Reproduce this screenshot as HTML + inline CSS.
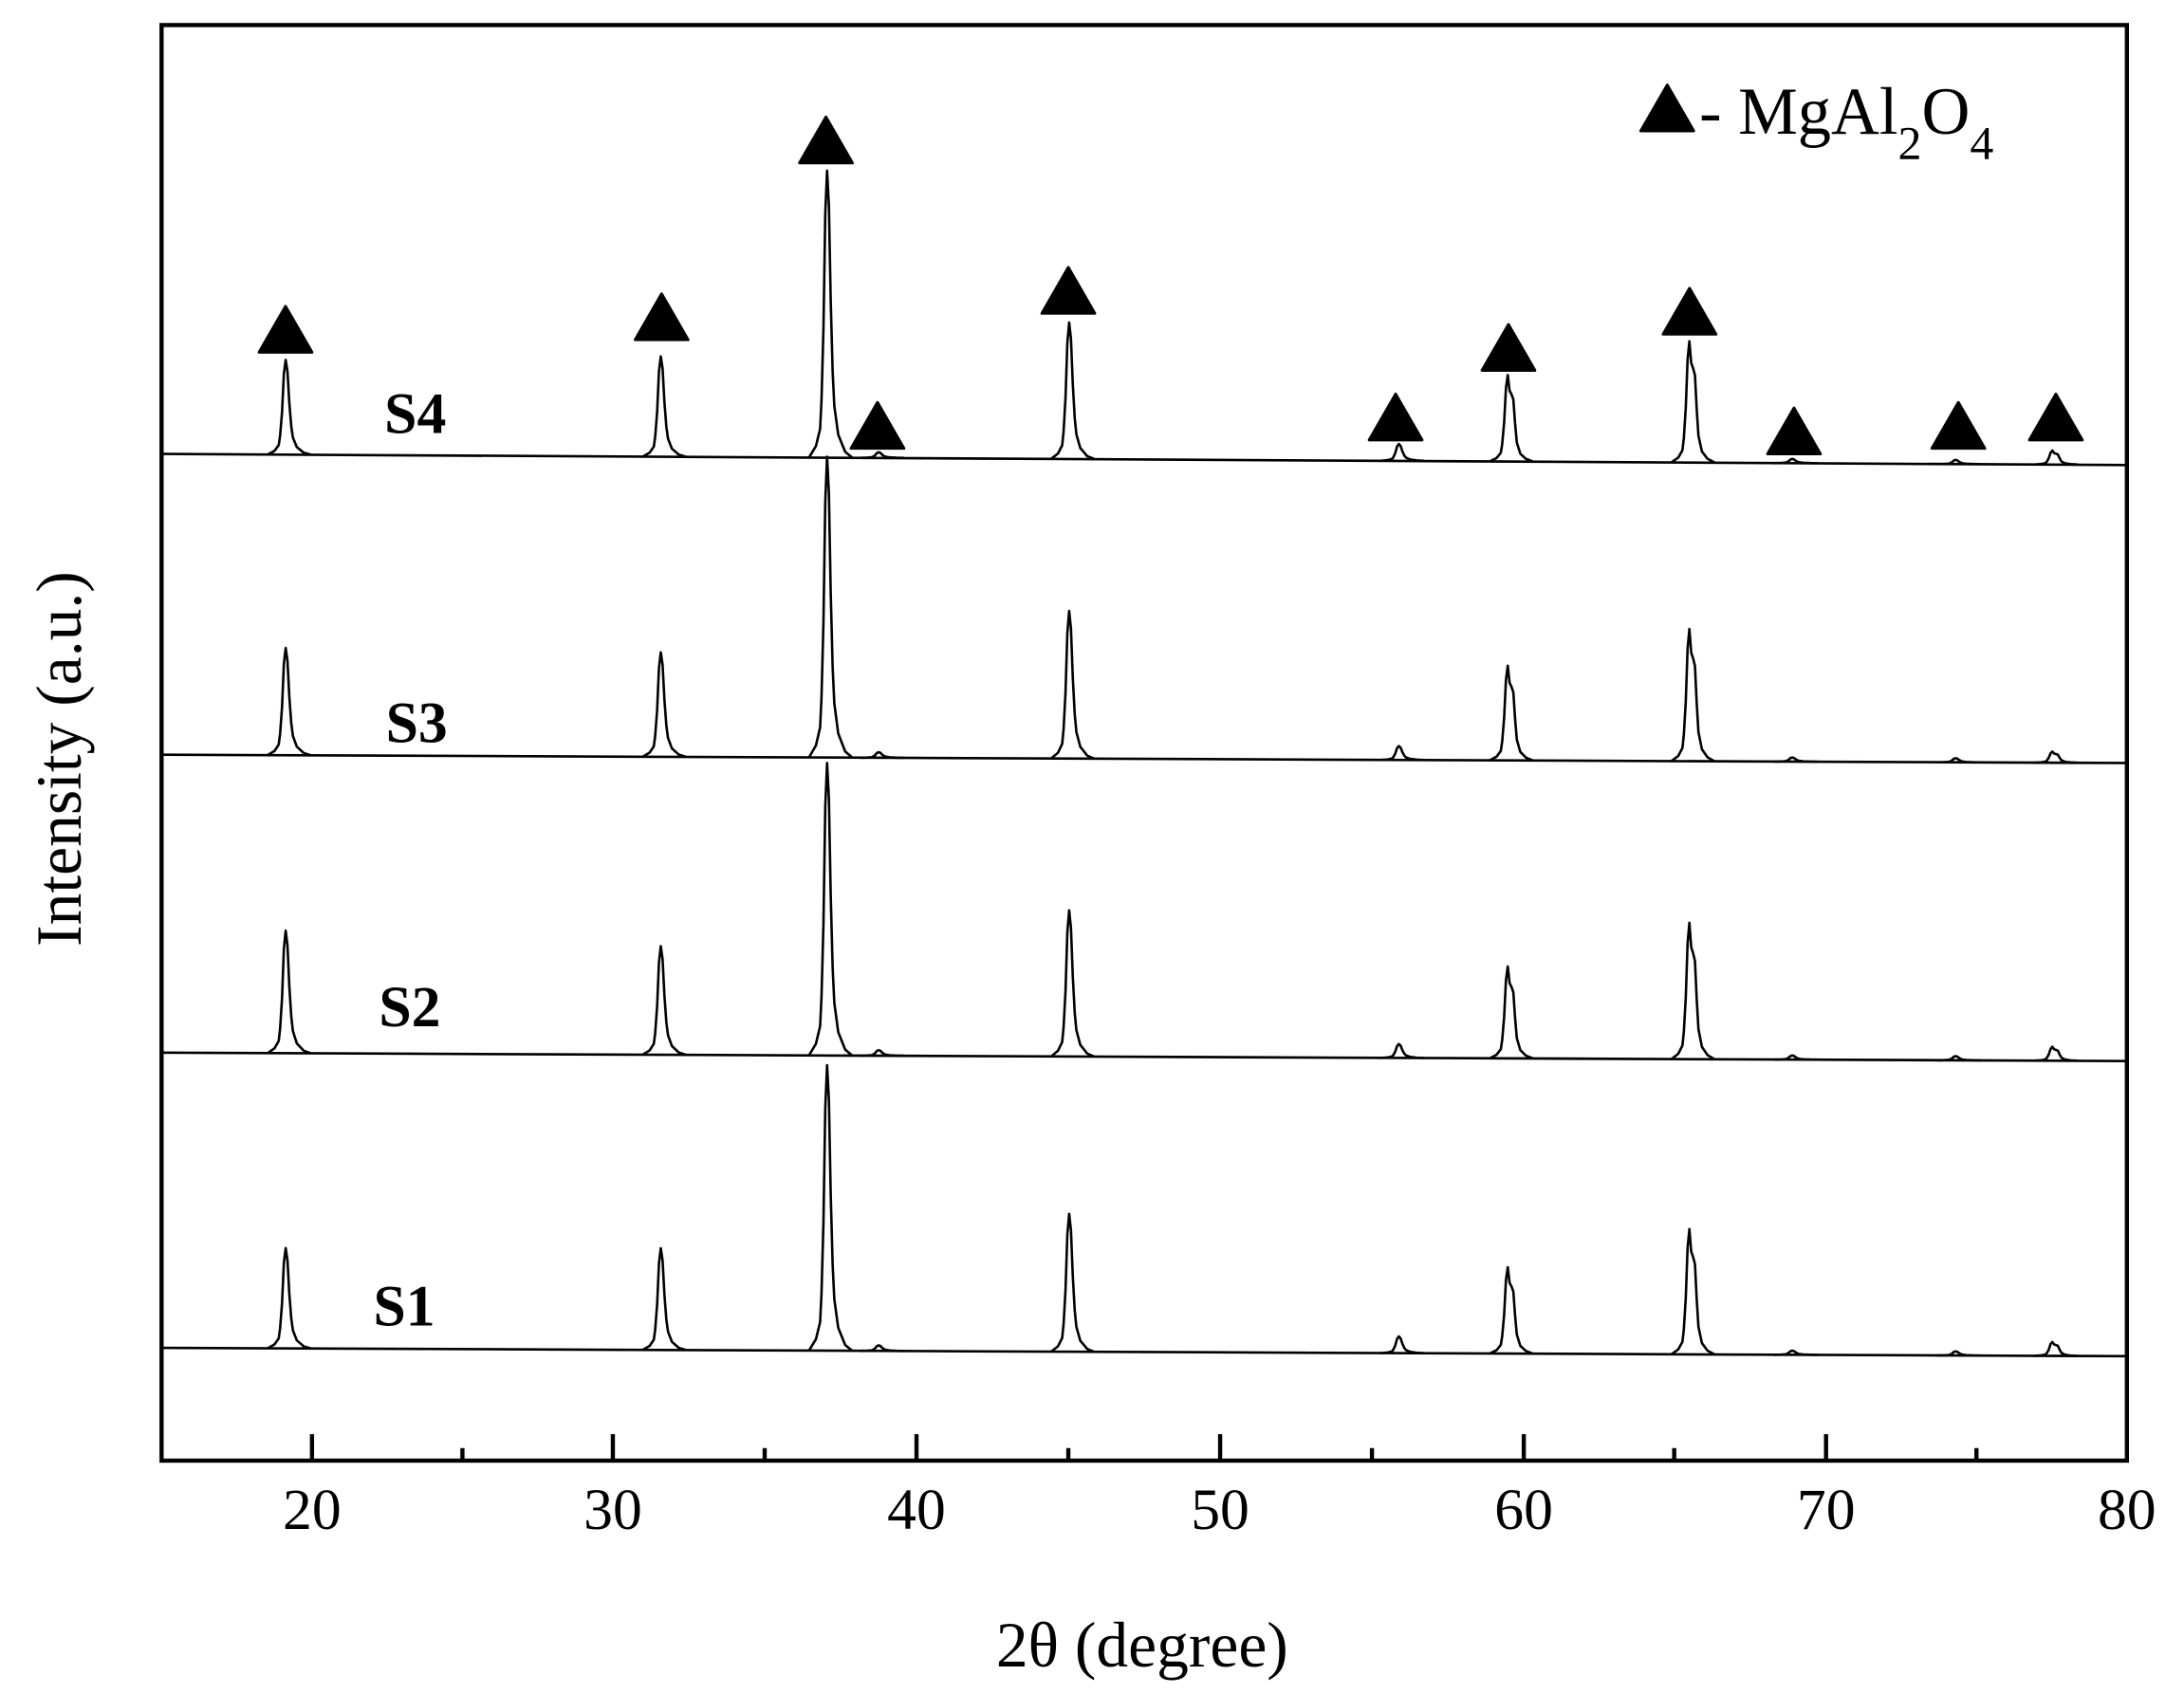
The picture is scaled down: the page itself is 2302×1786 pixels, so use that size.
<!DOCTYPE html>
<html><head><meta charset="utf-8"><style>
html,body{margin:0;padding:0;background:#fff;}
svg{display:block;}
text{font-family:"Liberation Serif",serif;fill:#000;}
</style></head><body>
<svg width="2302" height="1786" viewBox="0 0 1568 1216.6" preserveAspectRatio="none" xmlns="http://www.w3.org/2000/svg" xmlns:xlink="http://www.w3.org/1999/xlink">
<defs>
<path id="pk" d="M-13,0 L-8,-4 L-5,-10 L-4,-20 L-2.6,-45 L-1.3,-85 L0,-100 L1.3,-88 L2.6,-55 L4,-30 L5.2,-18 L8,-8 L13,-2 L18,0" fill="none" stroke="#000" stroke-width="2.6" stroke-linejoin="round" vector-effect="non-scaling-stroke"/>
<path id="pd" d="M-13,0 L-8,-4 L-5,-10 L-4,-20 L-2.6,-45 L-1.3,-85 L0,-100 L1.3,-82 L2.6,-78 L4,-72 L5.2,-45 L6.5,-22 L9,-9 L13,-3 L18,0" fill="none" stroke="#000" stroke-width="2.6" stroke-linejoin="round" vector-effect="non-scaling-stroke"/>
</defs>
<rect x="0" y="0" width="1568" height="1217" fill="#fff"/>
<g fill="none" stroke="#000" stroke-width="1.8">
<line x1="116" y1="326" x2="1527" y2="334"/>
<line x1="116" y1="542" x2="1527" y2="548"/>
<line x1="116" y1="756" x2="1527" y2="762"/>
<line x1="116" y1="968" x2="1527" y2="974"/>
</g>
<g>
<use xlink:href="#pk" transform="translate(205.1,326.5) scale(1,0.68)"/>
<use xlink:href="#pk" transform="translate(474.4,328) scale(1,0.72)"/>
<use xlink:href="#pk" transform="translate(593.8,328.6) scale(1,2.06)"/>
<use xlink:href="#pk" transform="translate(630.8,328.8) scale(1,0.04)"/>
<use xlink:href="#pk" transform="translate(767.6,329.6) scale(1,0.98)"/>
<use xlink:href="#pk" transform="translate(1004.3,330.9) scale(1,0.12)"/>
<use xlink:href="#pd" transform="translate(1082.5,331.4) scale(1,0.62)"/>
<use xlink:href="#pd" transform="translate(1212.9,332.1) scale(1,0.87)"/>
<use xlink:href="#pk" transform="translate(1286.7,332.6) scale(1,0.03)"/>
<use xlink:href="#pk" transform="translate(1404,333.3) scale(1,0.03)"/>
<use xlink:href="#pd" transform="translate(1473.5,333.6) scale(1,0.10)"/>
</g>
<g>
<use xlink:href="#pk" transform="translate(205.1,542.4) scale(1,0.77)"/>
<use xlink:href="#pk" transform="translate(474.4,543.5) scale(1,0.75)"/>
<use xlink:href="#pk" transform="translate(593.8,544) scale(1,2.16)"/>
<use xlink:href="#pk" transform="translate(630.8,544.2) scale(1,0.04)"/>
<use xlink:href="#pk" transform="translate(767.6,544.8) scale(1,1.06)"/>
<use xlink:href="#pk" transform="translate(1004.3,545.8) scale(1,0.10)"/>
<use xlink:href="#pd" transform="translate(1082.5,546.1) scale(1,0.68)"/>
<use xlink:href="#pd" transform="translate(1212.9,546.7) scale(1,0.95)"/>
<use xlink:href="#pk" transform="translate(1286.7,547) scale(1,0.03)"/>
<use xlink:href="#pk" transform="translate(1404,547.5) scale(1,0.03)"/>
<use xlink:href="#pd" transform="translate(1473.5,547.8) scale(1,0.08)"/>
</g>
<g>
<use xlink:href="#pk" transform="translate(205.1,756.4) scale(1,0.88)"/>
<use xlink:href="#pk" transform="translate(474.4,757.5) scale(1,0.78)"/>
<use xlink:href="#pk" transform="translate(593.8,758) scale(1,2.10)"/>
<use xlink:href="#pk" transform="translate(630.8,758.2) scale(1,0.04)"/>
<use xlink:href="#pk" transform="translate(767.6,758.8) scale(1,1.05)"/>
<use xlink:href="#pk" transform="translate(1004.3,759.8) scale(1,0.10)"/>
<use xlink:href="#pd" transform="translate(1082.5,760.1) scale(1,0.66)"/>
<use xlink:href="#pd" transform="translate(1212.9,760.7) scale(1,0.98)"/>
<use xlink:href="#pk" transform="translate(1286.7,761) scale(1,0.03)"/>
<use xlink:href="#pk" transform="translate(1404,761.5) scale(1,0.03)"/>
<use xlink:href="#pd" transform="translate(1473.5,761.8) scale(1,0.10)"/>
</g>
<g>
<use xlink:href="#pk" transform="translate(205.1,968.4) scale(1,0.72)"/>
<use xlink:href="#pk" transform="translate(474.4,969.5) scale(1,0.73)"/>
<use xlink:href="#pk" transform="translate(593.8,970) scale(1,2.05)"/>
<use xlink:href="#pk" transform="translate(630.8,970.2) scale(1,0.04)"/>
<use xlink:href="#pk" transform="translate(767.6,970.8) scale(1,0.99)"/>
<use xlink:href="#pk" transform="translate(1004.3,971.8) scale(1,0.12)"/>
<use xlink:href="#pd" transform="translate(1082.5,972.1) scale(1,0.62)"/>
<use xlink:href="#pd" transform="translate(1212.9,972.7) scale(1,0.90)"/>
<use xlink:href="#pk" transform="translate(1286.7,973) scale(1,0.03)"/>
<use xlink:href="#pk" transform="translate(1404,973.5) scale(1,0.03)"/>
<use xlink:href="#pd" transform="translate(1473.5,973.8) scale(1,0.10)"/>
</g>
<rect x="116" y="18" width="1411" height="1031" fill="none" stroke="#000" stroke-width="3"/>
<g stroke="#000" stroke-width="3">
<line x1="224" y1="1049" x2="224" y2="1030"/><line x1="332" y1="1049" x2="332" y2="1040"/>
<line x1="440" y1="1049" x2="440" y2="1030"/><line x1="549" y1="1049" x2="549" y2="1040"/>
<line x1="658" y1="1049" x2="658" y2="1030"/><line x1="767" y1="1049" x2="767" y2="1040"/>
<line x1="876" y1="1049" x2="876" y2="1030"/><line x1="985" y1="1049" x2="985" y2="1040"/>
<line x1="1094" y1="1049" x2="1094" y2="1030"/><line x1="1202" y1="1049" x2="1202" y2="1040"/>
<line x1="1311" y1="1049" x2="1311" y2="1030"/><line x1="1419" y1="1049" x2="1419" y2="1040"/>
</g>
<g font-size="42" text-anchor="middle">
<text x="224" y="1098">20</text><text x="440" y="1098">30</text><text x="658" y="1098">40</text>
<text x="876" y="1098">50</text><text x="1094" y="1098">60</text><text x="1311" y="1098">70</text><text x="1527" y="1098">80</text>
</g>
<text x="820" y="1197" font-size="46" text-anchor="middle">2θ (degree)</text>
<text transform="translate(58,545) rotate(-90)" font-size="46" text-anchor="middle">Intensity (a.u.)</text>
<g font-size="42" font-weight="bold">
<text x="276" y="311">S4</text><text x="277" y="533">S3</text><text x="272" y="737">S2</text><text x="268" y="952">S1</text>
</g>
<g fill="#000" stroke="#000" stroke-width="2" stroke-linejoin="round">
<polygon points="186,253 224,253 205,220"/>
<polygon points="456,244 494,244 475,211"/>
<polygon points="574,117 612,117 593,84"/>
<polygon points="611,322 649,322 630,289"/>
<polygon points="748,225 786,225 767,192"/>
<polygon points="983,316 1021,316 1002,283"/>
<polygon points="1064,266 1102,266 1083,233"/>
<polygon points="1194,240 1232,240 1213,207"/>
<polygon points="1269,326 1307,326 1288,293"/>
<polygon points="1387,322 1425,322 1406,289"/>
<polygon points="1457,316 1495,316 1476,283"/>
<polygon points="1178,94 1216,94 1197,61"/>
</g>
<text x="1220" y="96" font-size="48">- MgAl<tspan font-size="34" dy="18">2</tspan><tspan dy="-18">O</tspan><tspan font-size="34" dy="18">4</tspan></text>
</svg>
</body></html>
